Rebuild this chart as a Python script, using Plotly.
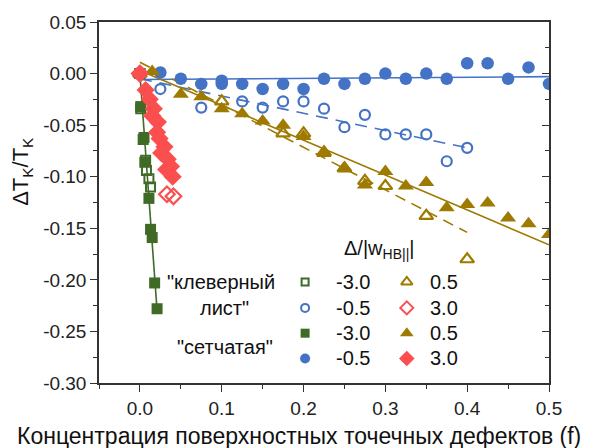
import plotly.graph_objects as go

# ---------------- data ----------------
# -0.5, "сетчатая" (filled blue circles)
net_m05_x = [0.0, 0.025, 0.05, 0.075, 0.1, 0.1, 0.125, 0.15, 0.175, 0.2, 0.225, 0.25,
             0.275, 0.3, 0.325, 0.35, 0.375, 0.4, 0.425, 0.45, 0.475, 0.5]
net_m05_y = [0.0, 0.001, -0.005, -0.010, -0.007, -0.010, -0.010, -0.015, -0.010, -0.015,
             -0.005, -0.010, -0.005, 0.000, -0.005, 0.000, -0.005, 0.010, 0.010, -0.005,
             0.006, -0.010]
# -0.5, "клеверный лист" (open blue circles)
clv_m05_x = [0.0, 0.025, 0.075, 0.125, 0.15, 0.175, 0.2, 0.225, 0.25, 0.275, 0.3, 0.325,
             0.35, 0.375, 0.4]
clv_m05_y = [0.0, -0.015, -0.033, -0.027, -0.033, -0.027, -0.027, -0.034, -0.052, -0.040,
             -0.059, -0.059, -0.059, -0.085, -0.072]
# 0.5, "сетчатая" (filled gold triangles)
net_p05_x = [0.015, 0.05, 0.075, 0.1, 0.125, 0.15, 0.175, 0.2, 0.225, 0.25, 0.275, 0.3,
             0.325, 0.35, 0.375, 0.4, 0.425, 0.45, 0.475, 0.5]
net_p05_y = [0.002, -0.020, -0.0225, -0.034, -0.039, -0.046, -0.050, -0.061, -0.0755,
             -0.091, -0.108, -0.095, -0.109, -0.1055, -0.130, -0.127, -0.1255, -0.140,
             -0.1455, -0.156]
# 0.5, "клеверный лист" (open gold triangles)
clv_p05_x = [0.0, 0.1, 0.175, 0.2, 0.225, 0.25, 0.275, 0.3, 0.35, 0.4]
clv_p05_y = [0.0, -0.027, -0.058, -0.058, -0.077, -0.092, -0.104, -0.109, -0.138, -0.180]
# -3.0, "сетчатая" (filled green squares)
net_m3_x = [0.0, 0.001, 0.005, 0.006, 0.011, 0.013, 0.015, 0.018, 0.021]
net_m3_y = [0.0, -0.032, -0.062, -0.086, -0.121, -0.151, -0.159, -0.203, -0.228]
# -3.0, "клеверный лист" (open green squares)
clv_m3_x = [0.0, 0.001, 0.004, 0.007, 0.008, 0.011, 0.013]
clv_m3_y = [0.0, -0.034, -0.064, -0.084, -0.094, -0.102, -0.110]
# 3.0, "сетчатая" (filled red diamonds)
net_p3_x = [0.0, 0.007, 0.012, 0.017, 0.015, 0.022, 0.021, 0.024, 0.030, 0.026, 0.034,
            0.038, 0.032, 0.040]
net_p3_y = [0.0, -0.016, -0.025, -0.034, -0.041, -0.047, -0.057, -0.063, -0.071, -0.077,
            -0.083, -0.090, -0.093, -0.100]
# 3.0, "клеверный лист" (open red diamonds)
clv_p3_x = [0.0, 0.033, 0.041]
clv_p3_y = [0.0, -0.117, -0.119]

# fit lines (end points)
fit_net_m05_x = [0.0, 0.5];  fit_net_m05_y = [-0.0058, -0.003]
fit_clv_m05_x = [0.0, 0.4];  fit_clv_m05_y = [-0.005, -0.072]
fit_net_p05_x = [0.0, 0.5];  fit_net_p05_y = [0.003, -0.166]
fit_clv_p05_x = [0.0, 0.4];  fit_clv_p05_y = [0.011, -0.154]
fit_net_m3_x = [0.0, 0.021]; fit_net_m3_y = [0.0, -0.23]

# ticks
x_tick_vals = [0.0, 0.1, 0.2, 0.3, 0.4, 0.5]
x_tick_text = ["0.0", "0.1", "0.2", "0.3", "0.4", "0.5"]
y_tick_vals = [0.05, 0.0, -0.05, -0.10, -0.15, -0.20, -0.25, -0.30]
y_tick_text = ["0.05", "0.00", "-0.05", "-0.10", "-0.15", "-0.20", "-0.25", "-0.30"]

# legend table
legend_values_left = ["-3.0", "-0.5", "-3.0", "-0.5"]
legend_values_right = ["0.5", "3.0", "0.5", "3.0"]

# ---------------- style ----------------
BLUE = "#4472c4"
GOLD = "#9e7a00"
GREEN = "#3f6b27"
RED = "#fb4e4e"
AX = "#333333"
FONT = "Arial, Liberation Sans, sans-serif"

fig = go.Figure()

def line(x, y, color, dash="solid"):
    fig.add_trace(go.Scatter(x=x, y=y, mode="lines", showlegend=False, hoverinfo="skip",
                             line=dict(color=color, width=1.6, dash=dash)))

def pts(x, y, color, symbol, size, lw=0, xa="x", ya="y"):
    fig.add_trace(go.Scatter(x=x, y=y, mode="markers", showlegend=False, xaxis=xa, yaxis=ya,
                             marker=dict(symbol=symbol, size=size, color=color,
                                         line=dict(color=color, width=lw))))

line(fit_net_m05_x, fit_net_m05_y, BLUE)
line(fit_clv_m05_x, fit_clv_m05_y, BLUE, "12px,8px")
line(fit_net_p05_x, fit_net_p05_y, GOLD)
line(fit_clv_p05_x, fit_clv_p05_y, GOLD, "11px,7px")
line(fit_net_m3_x, fit_net_m3_y, GREEN)

pts(clv_m3_x, clv_m3_y, GREEN, "square-open", 9, 2)
pts(clv_m05_x, clv_m05_y, BLUE, "circle-open", 10, 2.2)
pts(clv_p05_x, clv_p05_y, GOLD, "triangle-up-open", 12, 2.2)
pts(net_m3_x, net_m3_y, GREEN, "square", 11)
pts(net_m05_x, net_m05_y, BLUE, "circle", 12.5)
pts(net_p05_x, net_p05_y, GOLD, "triangle-up", 14)
pts(clv_p3_x, clv_p3_y, RED, "diamond-open", 12, 2.2)
pts(net_p3_x, net_p3_y, RED, "diamond", 14)

# right-side inward ticks
fig.add_trace(go.Scatter(x=[], y=[], yaxis="y2", showlegend=False, hoverinfo="skip"))

# legend symbols on an overlay axis (fractions of the plot area)
leg_col_x = [0.458, 0.684]
leg_row_y = [0.280, 0.208, 0.138, 0.068]
pts([leg_col_x[0]], [leg_row_y[0]], GREEN, "square-open", 7, 2, "x3", "y3")
pts([leg_col_x[0]], [leg_row_y[1]], BLUE, "circle-open", 8, 2, "x3", "y3")
pts([leg_col_x[0]], [leg_row_y[2]], GREEN, "square", 9, 0, "x3", "y3")
pts([leg_col_x[0]], [leg_row_y[3]], BLUE, "circle", 10, 0, "x3", "y3")
pts([leg_col_x[1]], [leg_row_y[0]], GOLD, "triangle-up-open", 10, 2, "x3", "y3")
pts([leg_col_x[1]], [leg_row_y[1]], RED, "diamond-open", 10, 2, "x3", "y3")
pts([leg_col_x[1]], [leg_row_y[2]], GOLD, "triangle-up", 12, 0, "x3", "y3")
pts([leg_col_x[1]], [leg_row_y[3]], RED, "diamond", 12, 0, "x3", "y3")

tickfont = dict(family=FONT, size=19, color="#222")
fig.update_layout(
    width=598, height=448,
    margin=dict(l=99, r=49, t=19, b=65),
    paper_bgcolor="white", plot_bgcolor="white",
    font=dict(family=FONT, color="#111"),
    xaxis=dict(range=[-0.05, 0.5], tickvals=x_tick_vals, ticktext=x_tick_text,
               ticks="outside", ticklen=7, tickwidth=1.3, tickcolor=AX,
               showline=True, linecolor=AX, linewidth=1.5, mirror=True,
               showgrid=False, zeroline=False, tickfont=tickfont,
               minor=dict(ticks="outside", ticklen=4, tickwidth=1.2, tickcolor=AX,
                          tickvals=[-0.05, 0.05, 0.15, 0.25, 0.35, 0.45], showgrid=False)),
    yaxis=dict(range=[-0.30, 0.05], tickvals=y_tick_vals, ticktext=y_tick_text,
               ticks="outside", ticklen=7, tickwidth=1.3, tickcolor=AX,
               showline=True, linecolor=AX, linewidth=1.5, mirror=True,
               showgrid=False, zeroline=False, tickfont=tickfont,
               minor=dict(ticks="outside", ticklen=4, tickwidth=1.2, tickcolor=AX,
                          tickvals=[0.025, -0.025, -0.075, -0.125, -0.175, -0.225, -0.275],
                          showgrid=False)),
    yaxis2=dict(range=[-0.30, 0.05], overlaying="y", side="right", anchor="x",
                tickvals=y_tick_vals, ticks="inside", ticklen=7, tickwidth=1.3, tickcolor=AX,
                showticklabels=False, showgrid=False, zeroline=False, showline=False,
                minor=dict(ticks="inside", ticklen=4, tickwidth=1.2, tickcolor=AX,
                           tickvals=[0.025, -0.025, -0.075, -0.125, -0.175, -0.225, -0.275],
                           showgrid=False)),
    xaxis3=dict(range=[0, 1], overlaying="x", anchor="y3", visible=False),
    yaxis3=dict(range=[0, 1], overlaying="y", anchor="x3", visible=False),
)

ann = []
# axis titles
ann.append(dict(text="Концентрация поверхностных точечных дефектов (f)", xref="paper", yref="paper",
                x=0.444, y=-0.148, xanchor="center", yanchor="middle", showarrow=False,
                font=dict(size=23, family=FONT, color="#111")))
ann.append(dict(text="ΔT<sub>K</sub>/T<sub>K</sub>", xref="paper", yref="paper",
                x=-0.171, y=0.585, xanchor="center", yanchor="middle", textangle=-90,
                showarrow=False, font=dict(size=22, family=FONT, color="#111")))
# legend texts
lf = dict(size=20, family=FONT, color="#111")
ann.append(dict(text="Δ/|w<sub>HB||</sub>|", xref="paper", yref="paper", x=0.624, y=0.371,
                xanchor="center", yanchor="middle", showarrow=False, font=lf))
ann.append(dict(text="\"клеверный", xref="paper", yref="paper", x=0.271, y=leg_row_y[0],
                xanchor="center", yanchor="middle", showarrow=False, font=lf))
ann.append(dict(text="лист\"", xref="paper", yref="paper", x=0.278, y=leg_row_y[1],
                xanchor="center", yanchor="middle", showarrow=False, font=lf))
ann.append(dict(text="\"сетчатая\"", xref="paper", yref="paper", x=0.28, y=0.099,
                xanchor="center", yanchor="middle", showarrow=False, font=lf))
for i in range(4):
    ann.append(dict(text=legend_values_left[i], xref="paper", yref="paper", x=0.564,
                    y=leg_row_y[i], xanchor="center", yanchor="middle", showarrow=False, font=lf))
    ann.append(dict(text=legend_values_right[i], xref="paper", yref="paper", x=0.731,
                    y=leg_row_y[i], xanchor="left", yanchor="middle", showarrow=False, font=lf))
fig.update_layout(annotations=ann)

fig.write_html("out.html")
